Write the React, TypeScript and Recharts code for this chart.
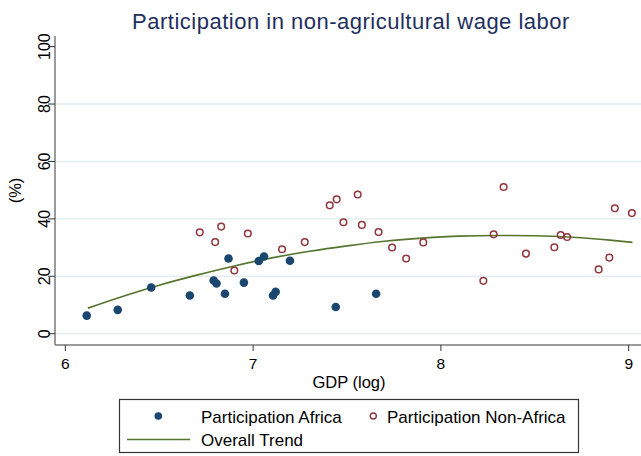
import React from 'react';
import { ScatterChart, Scatter, XAxis, YAxis, CartesianGrid } from 'recharts';

const africaGdp = [6.114, 6.279, 6.457, 6.663, 6.79, 6.805, 6.85, 6.869, 6.951, 7.03, 7.058, 7.106, 7.12, 7.196, 7.44, 7.655];
const africaPart = [6.3, 8.3, 16.1, 13.3, 18.5, 17.5, 13.9, 26.2, 17.8, 25.3, 26.9, 13.3, 14.6, 25.4, 9.3, 13.9];

const nonAfricaGdp = [6.716, 6.798, 6.83, 6.9, 6.972, 7.154, 7.275, 7.408, 7.445, 7.481, 7.557, 7.579, 7.668, 7.74, 7.815, 7.906, 8.226, 8.281, 8.334, 8.453, 8.604, 8.638, 8.672, 8.84, 8.897, 8.926, 9.017];
const nonAfricaPart = [35.3, 31.9, 37.3, 22.0, 34.9, 29.4, 31.9, 44.7, 46.8, 38.8, 48.5, 37.9, 35.4, 30.0, 26.2, 31.8, 18.4, 34.6, 51.1, 27.9, 30.1, 34.4, 33.7, 22.4, 26.5, 43.7, 42.0];

const trendGdp = [6.12, 6.3, 6.5, 6.7, 6.9, 7.1, 7.3, 7.5, 7.7, 7.9, 8.1, 8.3, 8.5, 8.7, 8.9, 9.02];
const trendPart = [8.9, 12.9, 16.9, 20.4, 23.6, 26.4, 28.7, 30.6, 32.2, 33.3, 34.0, 34.2, 34.1, 33.6, 32.6, 31.8];

const xTicks = [6, 7, 8, 9];
const yTicks = [0, 20, 40, 60, 80, 100];
const gridValues = [0, 20, 40, 60, 80];

const africa = africaGdp.map((x, i) => ({ x, y: africaPart[i] }));
const nonAfrica = nonAfricaGdp.map((x, i) => ({ x, y: nonAfricaPart[i] }));
const trend = trendGdp.map((x, i) => ({ x, y: trendPart[i] }));

const FONT = '"Liberation Sans", Arial, Helvetica, sans-serif';
const NAVY = '#1a476f';
const MAROON = '#90353b';
const GREEN = '#55752f';

const YTick = (props: any) => {
  const { y, payload } = props;
  return (
    <text
      x={45}
      y={y}
      transform={`rotate(-90 45 ${y})`}
      textAnchor="middle"
      dominantBaseline="central"
      fontSize={16}
      fontFamily={FONT}
      fill="#000"
    >
      {payload.value}
    </text>
  );
};

const AfricaDot = (p: any) => <circle cx={p.cx} cy={p.cy} r={4.3} fill={NAVY} />;
const NonAfricaDot = (p: any) => (
  <circle cx={p.cx} cy={p.cy} r={3.3} fill="none" stroke={MAROON} strokeWidth={1.5} />
);
const NoDot = () => <g />;

export default function App() {
  return (
    <div style={{ position: 'absolute', left: 0, top: 0, width: 641, height: 456, background: '#fff' }}>
      <ScatterChart width={641} height={456} margin={{ top: 36, right: 0, bottom: 81, left: 0 }}>
        <CartesianGrid
          horizontal={true}
          vertical={false}
          horizontalValues={gridValues}
          stroke="#e4edef"
          strokeWidth={1.5}
        />
        <XAxis
          type="number"
          dataKey="x"
          domain={[5.945, 9.0655]}
          ticks={xTicks}
          interval={0}
          allowDataOverflow
          height={30}
          tickSize={6}
          tickMargin={7}
          tick={{ fontSize: 15.5, fill: '#000', fontFamily: FONT }}
          axisLine={{ stroke: '#7a7a7a', strokeWidth: 1.5 }}
          tickLine={{ stroke: '#333' }}
        />
        <YAxis
          type="number"
          dataKey="y"
          domain={[-3.94, 103.7]}
          ticks={yTicks}
          interval={0}
          allowDataOverflow
          width={55}
          tickSize={7}
          tick={<YTick />}
          axisLine={{ stroke: '#7a7a7a', strokeWidth: 1.5 }}
          tickLine={{ stroke: '#333' }}
        />
        <Scatter data={trend} line={{ stroke: GREEN, strokeWidth: 1.6 }} lineJointType="monotoneX" shape={NoDot} isAnimationActive={false} />
        <Scatter data={nonAfrica} shape={NonAfricaDot} isAnimationActive={false} />
        <Scatter data={africa} shape={AfricaDot} isAnimationActive={false} />
      </ScatterChart>
      <svg
        width={641}
        height={456}
        style={{ position: 'absolute', left: 0, top: 0, pointerEvents: 'none' }}
        fontFamily={FONT}
      >
        <text x={351} y={28.5} textAnchor="middle" fontSize={22} letterSpacing={0.5} fill="#1e2f5e">
          Participation in non-agricultural wage labor
        </text>
        <text x={349} y={387.5} textAnchor="middle" fontSize={16.5} fill="#000">
          GDP (log)
        </text>
        <text x={21} y={190.5} transform="rotate(-90 21 190.5)" textAnchor="middle" fontSize={16.5} fill="#000">
          (%)
        </text>
        <rect x={119.5} y={399.5} width={459} height={53} fill="#fff" stroke="#333" strokeWidth={1.2} />
        <circle cx={158.3} cy={416} r={3.8} fill={NAVY} />
        <text x={201} y={422.5} fontSize={17} fill="#000">Participation Africa</text>
        <circle cx={373.3} cy={416} r={3} fill="none" stroke={MAROON} strokeWidth={1.4} />
        <text x={387} y={422.5} fontSize={17} fill="#000">Participation Non-Africa</text>
        <line x1={127} x2={190} y1={439.5} y2={439.5} stroke={GREEN} strokeWidth={1.5} />
        <text x={201} y={445.5} fontSize={17} fill="#000">Overall Trend</text>
      </svg>
    </div>
  );
}
